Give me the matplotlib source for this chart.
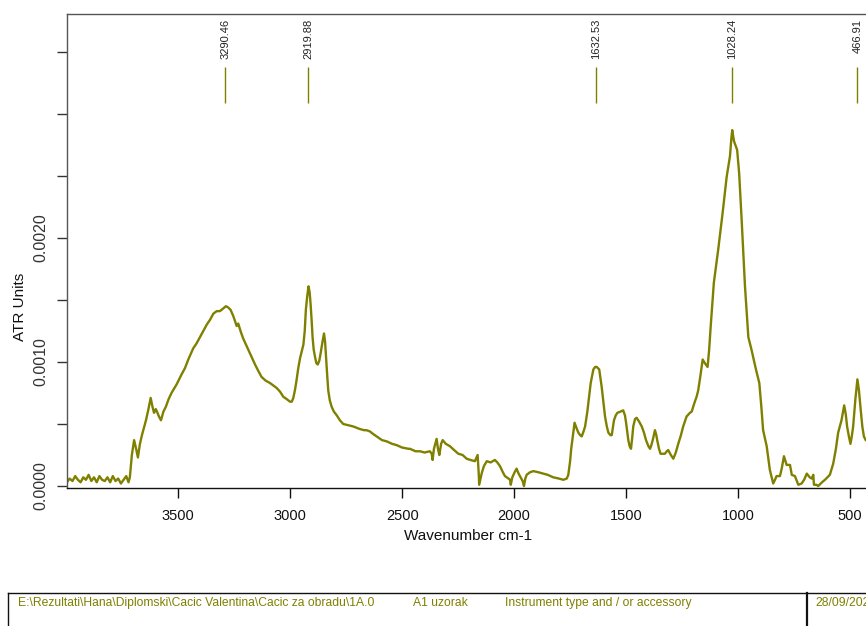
import numpy as np
import matplotlib
matplotlib.use("Agg")
import matplotlib.pyplot as plt
from matplotlib.ticker import MultipleLocator, FixedLocator, FuncFormatter

plt.rcParams['font.family'] = ['Liberation Sans', 'DejaVu Sans']

# ---- spectrum data (wavenumber cm-1, ATR units) ----
wavenumber = [
    3997, 3985, 3972, 3960, 3948, 3936, 3924, 3912, 3900, 3888, 3876, 3864, 3852, 3840,
    3828, 3816, 3804, 3792, 3780, 3768, 3756, 3744, 3732, 3722, 3716, 3707, 3697, 3688,
    3680, 3671, 3662, 3644, 3633, 3623, 3615, 3608, 3600, 3595, 3586, 3577, 3566, 3555,
    3543, 3530, 3507, 3485, 3470, 3455, 3433, 3418, 3403, 3388, 3373, 3358, 3343, 3328,
    3314, 3300, 3287, 3277, 3266, 3254, 3239, 3232, 3220, 3210, 3195, 3180, 3168, 3157,
    3143, 3128, 3110, 3090, 3075, 3060, 3045, 3031, 3015, 3001, 2993, 2986, 2978, 2971,
    2964, 2956, 2948, 2941, 2935, 2930, 2924, 2918, 2913, 2909, 2904, 2900, 2895, 2889,
    2883, 2877, 2870, 2864, 2856, 2849, 2844, 2840, 2835, 2830, 2823, 2815, 2805, 2792,
    2778, 2763, 2740, 2718, 2690, 2670, 2659, 2644, 2630, 2614, 2590, 2569, 2545, 2525,
    2500, 2472, 2465, 2440, 2420, 2400, 2376, 2368, 2364, 2358, 2346, 2340, 2334, 2326,
    2319, 2305, 2286, 2268, 2249, 2230, 2212, 2195, 2175, 2163, 2158, 2156, 2150, 2145,
    2135, 2122, 2105, 2086, 2075, 2063, 2050, 2041, 2025, 2018, 2015, 2008, 1998, 1989,
    1980, 1974, 1962, 1956, 1950, 1944, 1930, 1914, 1890, 1870, 1850, 1825, 1800, 1780,
    1765, 1758, 1750, 1745, 1738, 1730, 1722, 1713, 1705, 1698, 1690, 1683, 1673, 1665,
    1658, 1646, 1638, 1631, 1620, 1609, 1600, 1594, 1586, 1579, 1570, 1564, 1554, 1546,
    1539, 1525, 1513, 1505, 1500, 1490, 1484, 1478, 1472, 1468, 1460, 1453, 1442, 1430,
    1420, 1411, 1400, 1393, 1387, 1381, 1371, 1365, 1361, 1353, 1346, 1335, 1327, 1318,
    1312, 1300, 1289, 1278, 1267, 1255, 1245, 1230, 1215, 1207, 1193, 1185, 1178, 1168,
    1158, 1148, 1136, 1129, 1122, 1108, 1089, 1069, 1051, 1036, 1030, 1026, 1018, 1004,
    995, 984, 969, 954, 940, 920, 905, 896, 888, 872, 858, 843, 835, 828,
    813, 805, 795, 783, 768, 760, 746, 731, 716, 705, 693, 680, 671, 664,
    661, 650, 642, 625, 612, 590, 575, 563, 553, 538, 526, 519, 513, 505,
    498, 492, 486, 476, 467, 460, 452, 445, 438, 430, 420, 410, 400,
]
absorbance = [
    0.00003, 0.00006, 0.00004, 0.00008, 0.00005, 0.00003, 0.00007, 0.00005, 0.00009, 0.00004,
    0.00007, 0.00003, 0.00008, 0.00005, 0.00004, 0.00007, 0.00003, 0.00008, 0.00004, 0.00006,
    0.00002, 0.00005, 0.00008, 0.00003, 0.00007, 0.00025, 0.00037, 0.00030, 0.00023, 0.00034,
    0.00041, 0.00053, 0.00062, 0.00071, 0.00064, 0.00059, 0.00062, 0.00060, 0.00056, 0.00053,
    0.00060, 0.00064, 0.00070, 0.00075, 0.00082, 0.00090, 0.00095, 0.00102, 0.00111, 0.00115,
    0.00120, 0.00125, 0.00130, 0.00134, 0.00139, 0.00141, 0.00141, 0.00143, 0.00145, 0.00144,
    0.00142, 0.00137, 0.00129, 0.00131, 0.00124, 0.00119, 0.00113, 0.00107, 0.00102, 0.00098,
    0.00093, 0.00088, 0.00085, 0.00083, 0.00081, 0.00079, 0.00076, 0.00072, 0.00070, 0.00068,
    0.00068, 0.00071, 0.00078, 0.00086, 0.00095, 0.00103, 0.00109, 0.00114, 0.00125, 0.00142,
    0.00153, 0.00161, 0.00156, 0.00147, 0.00133, 0.00120, 0.00110, 0.00104, 0.00099, 0.00098,
    0.00101, 0.00107, 0.00116, 0.00123, 0.00116, 0.00104, 0.00090, 0.00077, 0.00069, 0.00064,
    0.00060, 0.00057, 0.00053, 0.00050, 0.00049, 0.00048, 0.00046, 0.00045, 0.00045, 0.00044,
    0.00042, 0.00040, 0.00037, 0.00036, 0.00034, 0.00033, 0.00031, 0.00030, 0.00030, 0.00028,
    0.00028, 0.00027, 0.00028, 0.00026, 0.00021, 0.00030, 0.00038, 0.00030, 0.00025, 0.00034,
    0.00037, 0.00034, 0.00032, 0.00029, 0.00026, 0.00025, 0.00022, 0.00021, 0.00020, 0.00025,
    0.00010, 0.00001, 0.00006, 0.00010, 0.00016, 0.00020, 0.00019, 0.00021, 0.00019, 0.00016,
    0.00011, 0.00008, 0.00006, 0.00005, 0.00001, 0.00007, 0.00011, 0.00014, 0.00010, 0.00008,
    0.00004, 0.00000, 0.00006, 0.00009, 0.00011, 0.00012, 0.00011, 0.00010, 0.00009, 0.00007,
    0.00006, 0.00005, 0.00006, 0.00009, 0.00020, 0.00030, 0.00040, 0.00051, 0.00047, 0.00043,
    0.00041, 0.00040, 0.00044, 0.00048, 0.00060, 0.00072, 0.00083, 0.00094, 0.00096, 0.00096,
    0.00094, 0.00080, 0.00066, 0.00056, 0.00048, 0.00043, 0.00041, 0.00041, 0.00053, 0.00057,
    0.00059, 0.00060, 0.00061, 0.00057, 0.00051, 0.00037, 0.00032, 0.00030, 0.00040, 0.00048,
    0.00054, 0.00055, 0.00052, 0.00048, 0.00043, 0.00037, 0.00032, 0.00030, 0.00033, 0.00037,
    0.00045, 0.00041, 0.00037, 0.00030, 0.00026, 0.00026, 0.00026, 0.00028, 0.00029, 0.00025,
    0.00022, 0.00027, 0.00034, 0.00041, 0.00048, 0.00056, 0.00059, 0.00060, 0.00068, 0.00072,
    0.00077, 0.00089, 0.00102, 0.00099, 0.00096, 0.00110, 0.00129, 0.00164, 0.00190, 0.00220,
    0.00249, 0.00266, 0.00280, 0.00287, 0.00278, 0.00271, 0.00252, 0.00215, 0.00161, 0.00120,
    0.00110, 0.00094, 0.00083, 0.00064, 0.00045, 0.00032, 0.00013, 0.00002, 0.00005, 0.00008,
    0.00008, 0.00014, 0.00024, 0.00017, 0.00017, 0.00009, 0.00008, 0.00001, 0.00002, 0.00005,
    0.00010, 0.00007, 0.00006, 0.00009, 0.00001, 0.00001, 0.00000, 0.00003, 0.00005, 0.00009,
    0.00018, 0.00030, 0.00043, 0.00053, 0.00065, 0.00058, 0.00048, 0.00040, 0.00034, 0.00040,
    0.00048, 0.00070, 0.00086, 0.00077, 0.00061, 0.00048, 0.00040, 0.00037, 0.00036, 0.00038,
    0.00040,
]

peak_positions = [3290.46, 2919.88, 1632.53, 1028.24, 466.91]
peak_labels = ["3290.46", "2919.88", "1632.53", "1028.24", "466.91"]

x_ticks = [3500, 3000, 2500, 2000, 1500, 1000, 500]
y_ticks_labeled = [0.0, 0.0010, 0.0020]

footer_path = r"E:\Rezultati\Hana\Diplomski\Cacic Valentina\Cacic za obradu\1A.0"
footer_sample = "A1 uzorak"
footer_instrument = "Instrument type and / or accessory"
footer_date = "28/09/2023"

OLIVE = "#808000"
W, H = 866, 626

fig = plt.figure(figsize=(W / 100, H / 100), dpi=100)
# axes placed in pixel coordinates (right edge extends beyond the figure)
left_px, right_px, top_px, bottom_px = 66.7, 872.4, 14.0, 487.7
ax = fig.add_axes([left_px / W, 1 - bottom_px / H,
                   (right_px - left_px) / W, (bottom_px - top_px) / H])

ax.plot(wavenumber, absorbance, color=OLIVE, lw=1.7, solid_joinstyle='round')
ax.set_xlim(3998, 400)
ax.set_ylim(-0.0000137, 0.003806)

for s in ['left', 'top', 'bottom', 'right']:
    ax.spines[s].set_linewidth(1.0)
ax.spines['top'].set_color('#555555')
ax.spines['left'].set_color('#555555')
ax.spines['bottom'].set_color('#111111')
ax.spines['right'].set_visible(False)

ax.xaxis.set_major_locator(FixedLocator(x_ticks))
ax.yaxis.set_major_locator(MultipleLocator(0.0005))
ax.yaxis.set_major_formatter(FuncFormatter(
    lambda v, p: f"{v:.4f}" if any(abs(v - t) < 1e-9 for t in y_ticks_labeled) else ""))
ax.tick_params(axis='x', length=7, width=1, direction='out', labelsize=10.5, pad=8,
               colors='#111111')
ax.tick_params(axis='y', length=7, width=1, direction='out', labelsize=11.5, pad=6,
               colors='#333333')
for lab in ax.get_yticklabels():
    lab.set_rotation(90)
    lab.set_va('center')

# peak markers
xt = ax.get_xaxis_transform()
y_line_top = (bottom_px - 67) / (bottom_px - top_px)
y_line_bot = (bottom_px - 103) / (bottom_px - top_px)
y_text_top = (bottom_px - 19) / (bottom_px - top_px)
ax.vlines(peak_positions, y_line_bot, y_line_top, transform=xt, color=OLIVE, lw=1.0)
for px_, lab in zip(peak_positions, peak_labels):
    ax.text(px_, y_text_top, lab, transform=xt, rotation=90, ha='center', va='top',
            fontsize=8, color='#222222', clip_on=False)

# axis labels
fig.text(20 / W, 1 - 307 / H, "ATR Units", rotation=90, ha='center', va='center',
         fontsize=11, color='#111111')
fig.text(468 / W, 1 - 536 / H, "Wavenumber cm-1", ha='center', va='center',
         fontsize=11, color='#111111')

# footer box
box_top = 1 - 593 / H
fig.add_artist(plt.Line2D([8 / W, 1.0], [box_top, box_top], color='#111111', lw=1.0))
fig.add_artist(plt.Line2D([8 / W, 8 / W], [0, box_top], color='#111111', lw=1.0))
fig.add_artist(plt.Line2D([807 / W, 807 / W], [0, box_top], color='#111111', lw=1.6))
ty = 1 - 606 / H
fs_footer = 8.7
fig.text(18 / W, ty, footer_path, fontsize=fs_footer, color=OLIVE, va='baseline', ha='left')
fig.text(413 / W, ty, footer_sample, fontsize=fs_footer, color=OLIVE, va='baseline', ha='left')
fig.text(505 / W, ty, footer_instrument, fontsize=fs_footer, color=OLIVE, va='baseline', ha='left')
fig.text(815 / W, ty, footer_date, fontsize=fs_footer, color=OLIVE, va='baseline', ha='left')

fig.savefig("out.png", dpi=100)
